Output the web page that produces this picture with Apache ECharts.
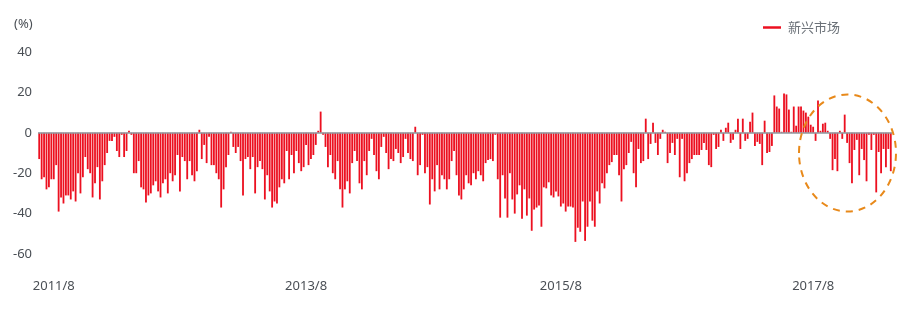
<!DOCTYPE html>
<html>
<head>
<meta charset="utf-8">
<script src="https://cdn.jsdelivr.net/npm/echarts@6/dist/echarts.min.js"></script>
<style>html,body{margin:0;padding:0;background:#fff}#c{width:904px;height:310px}</style>
</head>
<body>
<div id="c"></div>
<script>
// Weekly values (%), in segments left to right
const seg1 = [-13,-23,-22,-28,-27,-23,-23,-16,-39,-32,-35,-31,-31,-33,-29,-34,-20,-30,-22,-12,-18,-20,-32,-25,-17,-33,-24,-16,-10,-4,-4,-2,-9,-12,-1,-12,-9,1,-1,-20,-20,-14,-27,-28];
const seg2 = [-34.5,-31,-30,-26,-24,-29,-32,-25,-23,-30,-20,-24,-21,-11,-29,-12,-14,-23,-14,-21,-24,-19,1.5,-13,-6,-15,-2,-16,-16,-20,-23,-37,-28,-17,-11,0.5,-7,-10,-7,-14,-31,-13,-12];
const seg3 = [-18,-12,-30,-17,-14,-18,-33,-21,-29,-37,-34,-35,-27,-23,-25,-9,-23,-11,-20,-9,-15,-19,-17,-6,-16,-13,-11,-6,1,10.5,-1,-7,-17,-11,-20,-23,-14,-28,-37,-28,-24,-30,-15,-9];
const seg4 = [-14,-25,-28,-14,-21,-9,-3,-11,-19,-23,-7,-2,-10,-18,-13,-14,-8,-10,-15,-12,-3,-10,-13,-14,3,-21,-16,-1,-20,-17,-35.5,-23,-29,-16,-28,-21,-23,-28,-23,-14,-9,-21];
const seg5 = [-31,-33,-28,-21,-25,-26,-20,-23,-19,-21,-24,-15,-13.5,-13,-14,-1,-23,-42,-21,-32.5,-42,-20,-33,-40,-30.5,-26,-42.5,-28,-41,-32.5,-48.5,-38,-37,-36,-46.5,-27,-27.5,-24.5,-31,-32,-29,-31.5,-36.5,-35];
const seg6 = [-39,-36.5,-36.5,-37,-54,-47,-49,-34,-53.5,-46.5,-34,-43.5,-46.5,-29,-35,-25,-27.5,-20,-16,-14.5,-11,-11,-21,-34,-18,-16,-10,-4.5,-20,-27,-8,-15,-14,7,-13,-5.5,5,-5,-11,-3,1.5,0.5,-15,-10];
const seg7 = [-5,-11,-3,-22,-3,-24,-20,-15,-13,-11,-11,-11,-8.5,-5,-8.5,-16,-17,-1,-8,-7,1.5,-4,2.5,5,-5,-3.5,1.5,7,-8,7,-4,-3,5.5,10,-6.5,-4.5,-5.5,-16,6,-10,-9.5,-6.5];
const seg8 = [18.5,13,12,0.5,19.5,19,11.5,0.5,13,3.5,13,13,11,10,8,4,3,-4,16,1,4.5,5,1,-3,-18.5,-13,-19,1,-3,9,-5,-15,-25,-8.5,-3.5,-21,-8,-13.5,-24,-1,-8.5,-1,-29.5,-9.5,-20,-8,-17,-8,-19];
const seriesName = '新兴市场';
const startWeek = '2011-06-24';
const tickLabels = ['2011/8','2013/8','2015/8','2017/8'];
const yTicks = [-60,-40,-20,0,20,40];

const values = [].concat(seg1, seg2, seg3, seg4, seg5, seg6, seg7, seg8);
// weekly category dates
const categories = [];
const t0 = new Date(startWeek + 'T00:00:00Z').getTime();
for (let i = 0; i < values.length; i++) {
  const d = new Date(t0 + i * 7 * 86400000);
  categories.push(d.getUTCFullYear() + '/' + (d.getUTCMonth() + 1) + '/' + d.getUTCDate());
}
const monthKey = c => c.split('/').slice(0, 2).join('/');
const shownIdx = new Set();
const seen = new Set();
categories.forEach((c, i) => {
  const k = monthKey(c);
  if (tickLabels.includes(k) && !seen.has(k)) { seen.add(k); shownIdx.add(i); }
});

const FONT = "'Noto Sans', 'Noto Sans CJK SC', sans-serif";
const chart = echarts.init(document.getElementById('c'), null, {renderer: 'canvas'});
chart.setOption({
  animation: false,
  grid: {left: 38, right: 12, top: 52, bottom: 56, containLabel: false},
  legend: {
    right: 59, top: 16, icon: 'rect', itemWidth: 18, itemHeight: 2.5, itemGap: 10,
    textStyle: {color: '#6b7178', fontSize: 13, fontFamily: "'Noto Sans CJK SC', sans-serif", padding: [0,0,0,2]},
    data: [seriesName]
  },
  xAxis: {
    type: 'category', data: categories, boundaryGap: true,
    axisLine: {show: false}, axisTick: {show: false},
    axisLabel: {
      interval: (i) => shownIdx.has(i),
      formatter: (v) => monthKey(v),
      margin: 26, color: '#4a4f55', fontSize: 13, fontFamily: FONT
    },
    splitLine: {show: false}
  },
  yAxis: {
    type: 'value', min: yTicks[0], max: yTicks[yTicks.length - 1], interval: 20,
    axisLine: {show: false}, axisTick: {show: false}, splitLine: {show: false},
    axisLabel: {margin: 6, color: '#4a4f55', fontSize: 13, fontFamily: FONT}
  },
  graphic: [
    {type: 'text', left: 14, top: 18, style: {text: '(%)', fill: '#4a4f55', font: "13px 'Noto Sans', sans-serif"}},
    {type: 'ellipse', shape: {cx: 847.5, cy: 153, rx: 48.5, ry: 58.5}, z: 100,
     style: {fill: 'none', stroke: '#e8891a', lineWidth: 2, lineDash: [7, 6]}}
  ],
  series: [{
    name: seriesName, type: 'bar', data: values,
    barCategoryGap: '25%',
    itemStyle: {color: '#ec1020'},
    markLine: {
      silent: true, symbol: ['none', 'none'], label: {show: false},
      lineStyle: {color: '#8e979e', width: 1.5, type: 'solid'},
      data: [{yAxis: 0}]
    }
  }]
});
</script>
</body>
</html>
